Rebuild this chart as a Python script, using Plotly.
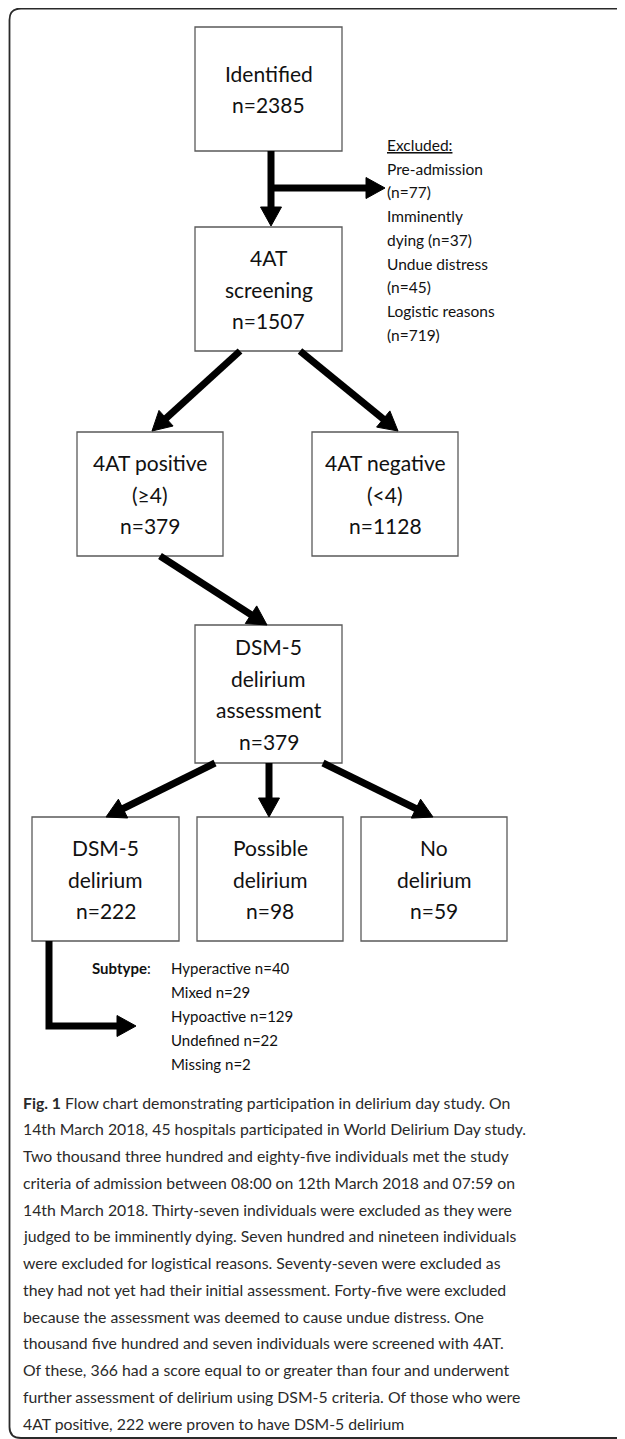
import plotly.graph_objects as go

# ---------------- data (texts & counts) ----------------
box_labels = {
    "identified": ["Identified", "n=2385"],
    "screening": ["4AT", "screening", "n=1507"],
    "positive": ["4AT positive", "(≥4)", "n=379"],
    "negative": ["4AT negative", "(<4)", "n=1128"],
    "dsm": ["DSM-5", "delirium", "assessment", "n=379"],
    "delirium": ["DSM-5", "delirium", "n=222"],
    "possible": ["Possible", "delirium", "n=98"],
    "nodel": ["No", "delirium", "n=59"],
}
excluded_title = "Excluded:"
excluded_lines = ["Pre-admission", "(n=77)", "Imminently", "dying (n=37)",
                  "Undue distress", "(n=45)", "Logistic reasons", "(n=719)"]
subtype_names = ["Hyperactive", "Mixed", "Hypoactive", "Undefined", "Missing"]
subtype_counts = [40, 29, 129, 22, 2]
caption_lines = [
    "<b>Fig. 1</b> Flow chart demonstrating participation in delirium day study. On",
    "14th March 2018, 45 hospitals participated in World Delirium Day study.",
    "Two thousand three hundred and eighty-five individuals met the study",
    "criteria of admission between 08:00 on 12th March 2018 and 07:59 on",
    "14th March 2018. Thirty-seven individuals were excluded as they were",
    "judged to be imminently dying. Seven hundred and nineteen individuals",
    "were excluded for logistical reasons. Seventy-seven were excluded as",
    "they had not yet had their initial assessment. Forty-five were excluded",
    "because the assessment was deemed to cause undue distress. One",
    "thousand five hundred and seven individuals were screened with 4AT.",
    "Of these, 366 had a score equal to or greater than four and underwent",
    "further assessment of delirium using DSM-5 criteria. Of those who were",
    "4AT positive, 222 were proven to have DSM-5 delirium",
]

# ---------------- layout (positions in page pixels) ----------------
W, H = 625, 1439
PAGE_MARGIN = 8  # default body margin of the html page
box_geom = {  # x0, x1, y0, y1
    "identified": (195, 342, 27, 151),
    "screening": (195, 342, 227, 351),
    "positive": (77, 223, 432, 556),
    "negative": (312, 458, 432, 556),
    "dsm": (195, 342, 625, 763),
    "delirium": (32, 179, 817, 941),
    "possible": (197, 343, 817, 941),
    "nodel": (361, 507, 817, 941),
}
arrows = [
    [(271, 151), (271, 226)],
    [(271, 188), (385, 188)],
    [(240, 351), (152, 431)],
    [(300, 351), (398, 431)],
    [(160, 556), (267, 625)],
    [(215, 763), (106, 817)],
    [(269, 763), (269, 817)],
    [(323, 763), (433, 817)],
    [(49, 941), (49, 1026), (136, 1026)],
]
BOX_FONT = dict(family="Lato, 'Open Sans', sans-serif", size=21, color="#111111")
LINE_SP = 31.5
HEAD_L, HEAD_W = 19, 10.5
ARROW_W = 7

fig = go.Figure()
shapes = []
annotations = []

# outer frame (rounded left corners)
shapes.append(dict(type="path",
                   path="M 640,8.5 L 21,8.5 Q 9.5,8.5 9.5,20 L 9.5,1427 Q 9.5,1438 21,1438 L 640,1438",
                   line=dict(color="#2a2a2a", width=1.8)))

# boxes and their text
for key, (x0, x1, y0, y1) in box_geom.items():
    shapes.append(dict(type="rect", x0=x0, x1=x1, y0=y0, y1=y1,
                       line=dict(color="#5a5a5a", width=1.3), fillcolor="white"))
    lines = box_labels[key]
    cx, cy = (x0 + x1) / 2, (y0 + y1) / 2
    n = len(lines)
    for i, t in enumerate(lines):
        annotations.append(dict(x=cx, y=cy + (i - (n - 1) / 2) * LINE_SP, text=t,
                                showarrow=False, xanchor="center", yanchor="middle",
                                font=BOX_FONT))

# arrows: thick polylines with filled triangular heads
for pts in arrows:
    (xa, ya), (xb, yb) = pts[-2], pts[-1]
    dx, dy = xb - xa, yb - ya
    L = (dx * dx + dy * dy) ** 0.5
    ux, uy = dx / L, dy / L
    bx, by = xb - ux * HEAD_L, yb - uy * HEAD_L
    body = pts[:-1] + [(bx + ux * 2, by + uy * 2)]
    path = "M " + " L ".join(f"{x:.1f},{y:.1f}" for x, y in body)
    shapes.append(dict(type="path", path=path,
                       line=dict(color="black", width=ARROW_W)))
    px, py = -uy, ux
    head = (f"M {xb:.1f},{yb:.1f} L {bx + px * HEAD_W:.1f},{by + py * HEAD_W:.1f} "
            f"L {bx - px * HEAD_W:.1f},{by - py * HEAD_W:.1f} Z")
    shapes.append(dict(type="path", path=head, fillcolor="black",
                       line=dict(color="black", width=1)))

# excluded list
EX_FONT = dict(family="Lato, 'Open Sans', sans-serif", size=15.5, color="#111111")
ex_all = [f"<u>{excluded_title}</u>"] + excluded_lines
for i, t in enumerate(ex_all):
    annotations.append(dict(x=385, y=145 + i * 23.7, text=t, showarrow=False,
                            xanchor="left", yanchor="middle", font=EX_FONT))

# subtype list
SUB_FONT = dict(family="Lato, 'Open Sans', sans-serif", size=15, color="#111111")
annotations.append(dict(x=90, y=968, text="<b>Subtype</b>:", showarrow=False,
                        xanchor="left", yanchor="middle", font=SUB_FONT))
for i, (nm, c) in enumerate(zip(subtype_names, subtype_counts)):
    annotations.append(dict(x=169, y=968 + i * 24, text=f"{nm} n={c}", showarrow=False,
                            xanchor="left", yanchor="middle", font=SUB_FONT))

# caption
CAP_FONT = dict(family="Lato, 'Open Sans', sans-serif", size=15.8, color="#2a2a2a")
for i, t in enumerate(caption_lines):
    annotations.append(dict(x=21, y=1102 + i * 26.75, text=t, showarrow=False,
                            xanchor="left", yanchor="middle", font=CAP_FONT))

m = PAGE_MARGIN
fig.update_layout(
    width=W - m, height=H - m, margin=dict(l=0, r=0, t=0, b=0),
    paper_bgcolor="white", plot_bgcolor="white",
    xaxis=dict(range=[m, W], visible=False, fixedrange=True),
    yaxis=dict(range=[H, m], visible=False, fixedrange=True),
    shapes=shapes, annotations=annotations, showlegend=False,
)
fig.write_html("out.html")
